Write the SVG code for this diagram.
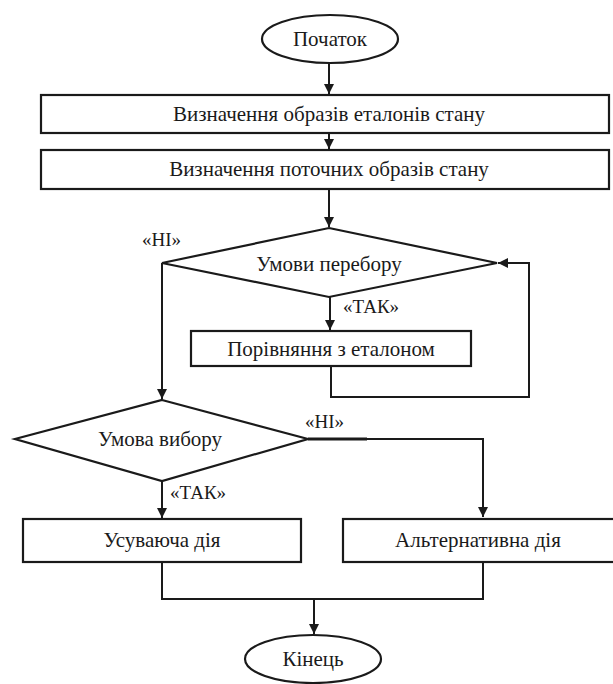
<svg xmlns="http://www.w3.org/2000/svg" width="613" height="684" viewBox="0 0 613 684">
<style>
.s{fill:#fff;stroke:#1a1a1a;stroke-width:2.2}
.c{fill:none;stroke:#1a1a1a;stroke-width:2}
.t{font-family:'Liberation Serif','Times New Roman',serif;font-size:21px;fill:#1a1a1a;text-anchor:middle}
.l{font-family:'Liberation Serif','Times New Roman',serif;font-size:19px;fill:#1a1a1a}
</style>
<defs>
<marker id="a" markerWidth="10" markerHeight="10" refX="10" refY="5" orient="auto" markerUnits="userSpaceOnUse">
<path d="M0,0 L10,5 L0,10 z" fill="#1a1a1a"/>
</marker>
</defs>
<rect width="613" height="684" fill="#fff"/>
<g id="connectors">
<path class="c" d="M329,63 V94" marker-end="url(#a)"/>
<path class="c" d="M329,133 V149" marker-end="url(#a)"/>
<path class="c" d="M329,189 V227" marker-end="url(#a)"/>
<path class="c" d="M330,297 V330" marker-end="url(#a)"/>
<path class="c" d="M331,366 V397 H529 V263 H498" marker-end="url(#a)"/>
<path class="c" d="M162,263 V399" marker-end="url(#a)"/>
<path class="c" d="M162,481 V518" marker-end="url(#a)"/>
<path d="M308,439 H367" stroke="#1a1a1a" stroke-width="3.2" fill="none"/>
<path class="c" d="M367,439 H483 V517" marker-end="url(#a)"/>
<path class="c" d="M162,562 V599 H483 V562"/>
<path class="c" d="M314,599 V634" marker-end="url(#a)"/>
<text class="l" x="142" y="246">«НІ»</text>
<text class="l" x="343" y="313">«ТАК»</text>
<text class="l" x="305" y="428">«НІ»</text>
<text class="l" x="170" y="499">«ТАК»</text>
</g>
<g id="start">
<ellipse class="s" cx="330" cy="39" rx="68" ry="24"/>
<text class="t" x="330" y="46">Початок</text>
</g>
<g id="box1">
<rect class="s" x="41" y="95" width="568" height="38"/>
<text class="t" x="329" y="121">Визначення образів еталонів стану</text>
</g>
<g id="box2">
<rect class="s" x="41" y="150" width="568" height="39"/>
<text class="t" x="329" y="176">Визначення поточних образів стану</text>
</g>
<g id="cond1">
<polygon class="s" points="329,228 497,263 329,297 162,263"/>
<text class="t" x="329" y="271">Умови перебору</text>
</g>
<g id="compare">
<rect class="s" x="191" y="331" width="280" height="35"/>
<text class="t" x="331" y="356">Порівняння з еталоном</text>
</g>
<g id="cond2">
<polygon class="s" points="162,400 308,439 162,481 15,439"/>
<text class="t" x="160" y="446">Умова вибору</text>
</g>
<g id="action">
<rect class="s" x="23" y="519" width="278" height="43"/>
<text class="t" x="162" y="547">Усуваюча дія</text>
</g>
<g id="alt">
<rect class="s" x="343" y="519" width="272" height="43"/>
<text class="t" x="478" y="547">Альтернативна дія</text>
</g>
<g id="end">
<ellipse class="s" cx="313" cy="659" rx="68" ry="24"/>
<text class="t" x="313" y="666">Кінець</text>
</g>
</svg>
